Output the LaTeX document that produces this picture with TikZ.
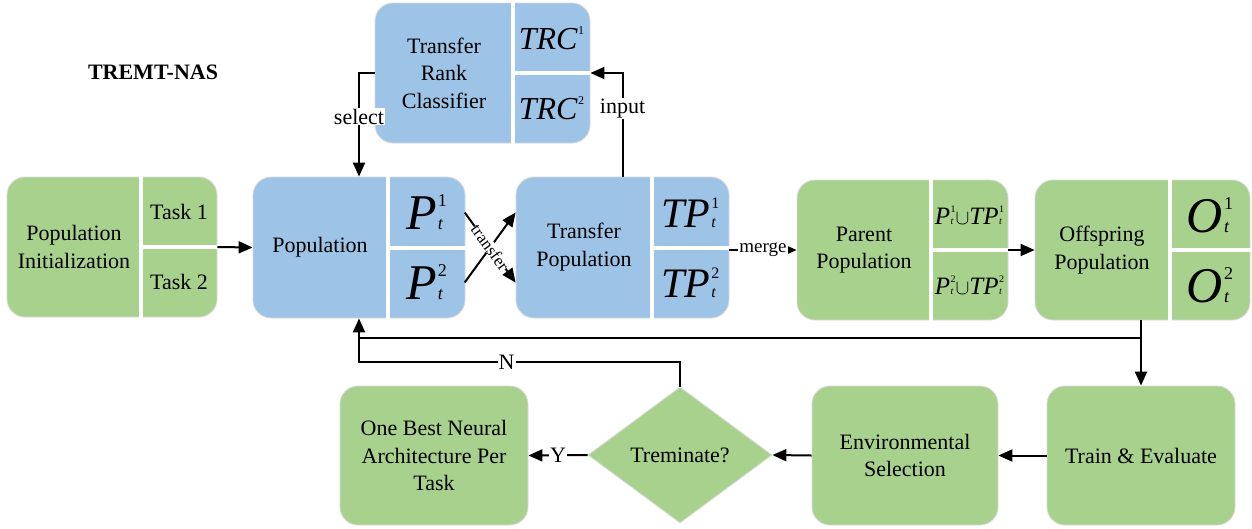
\documentclass[tikz,border=0pt]{standalone}
\usepackage{fontspec}
\setmainfont{LiberationSerif}[Extension=.ttf, UprightFont=*-Regular, BoldFont=*-Bold, ItalicFont=*-Italic, BoldItalicFont=*-BoldItalic]
\usetikzlibrary{arrows.meta,shapes.geometric}

\definecolor{boxgreen}{RGB}{169,209,142}
\definecolor{boxblue}{RGB}{157,195,230}

% letter(s) with task index on top and t below
\newcommand{\pvar}[5]{{\fontsize{#1}{#1}\selectfont
  {\itshape #3}\kern0.02em\rlap{\fontsize{#2}{#2}\selectfont\itshape #5}%
  \raisebox{0.46em}{\fontsize{#2}{#2}\selectfont #4}}}

\begin{document}
\begin{tikzpicture}[x=1pt,y=-1pt,
    every node/.style={font=\fontsize{22}{27.5}\selectfont, align=center},
    gbox/.style={draw=gray!30, fill=boxgreen, rounded corners=18pt, line width=0.8pt},
    bbox/.style={draw=gray!30, fill=boxblue, rounded corners=18pt, line width=0.8pt},
    cut/.style={white, line width=4pt},
    cell/.style={inner sep=0pt, minimum width=76pt, minimum height=70pt},
    flow/.style={-{Triangle[length=14pt,width=12pt]}, line width=2pt},
    lbl/.style={fill=white, inner sep=1pt}]
  \useasboundingbox (0,0) rectangle (1252,528);

  \node[font=\fontsize{22}{27.5}\selectfont\bfseries] (title) at (153,72) {TREMT-NAS};

  % population initialization
  \node[gbox, minimum width=210pt, minimum height=140pt] (pinit) at (112,247) {};
  \draw[cut] (141,175) -- (141,319) (141,247) -- (219,247);
  \node (pinitl) at (74,247) {Population\\Initialization};
  \node[cell] (task1) at (179,212) {Task 1};
  \node[cell] (task2) at (179,282) {Task 2};

  % population
  \node[bbox, minimum width=212pt, minimum height=141pt] (pop) at (359,247.5) {};
  \draw[cut] (388,175) -- (388,320) (388,247.5) -- (467,247.5);
  \node (popl) at (320,247) {Population};
  \node[cell] (p1) at (426.5,212.5) {\pvar{50}{18}{P}{1}{t}};
  \node[cell] (p2) at (426.5,282.5) {\pvar{50}{18}{P}{2}{t}};

  % transfer rank classifier
  \node[bbox, minimum width=215pt, minimum height=140pt] (trc) at (482.5,73) {};
  \draw[cut] (513,1) -- (513,145) (513,73) -- (592,73);
  \node (trcl) at (444,73) {Transfer\\Rank\\Classifier};
  \node[cell] (trc1) at (551.5,38) {\pvar{32}{12}{TRC}{1}{}};
  \node[cell] (trc2) at (551.5,108) {\pvar{32}{12}{TRC}{2}{}};

  % transfer population
  \node[bbox, minimum width=213pt, minimum height=141pt] (tpop) at (622.5,247.5) {};
  \draw[cut] (652,175) -- (652,320) (652,247.5) -- (731,247.5);
  \node (tpopl) at (584,247) {Transfer\\Population};
  \node[cell] (tp1) at (690.5,212.5) {\pvar{42}{16}{TP}{1}{t}};
  \node[cell] (tp2) at (690.5,282.5) {\pvar{42}{16}{TP}{2}{t}};

  % parent population
  \node[gbox, minimum width=211pt, minimum height=140pt] (par) at (902.5,250) {};
  \draw[cut] (931,178) -- (931,322) (931,250) -- (1010,250);
  \node (parl) at (864,250) {Parent\\Population};
  \node[cell] (pu1) at (969.5,215) {\pvar{25}{10}{P}{1}{t}$\cup$\pvar{25}{10}{TP}{1}{t}};
  \node[cell] (pu2) at (969.5,285) {\pvar{25}{10}{P}{2}{t}$\cup$\pvar{25}{10}{TP}{2}{t}};

  % offspring population
  \node[gbox, minimum width=215pt, minimum height=140pt] (off) at (1142.5,250) {};
  \draw[cut] (1170,178) -- (1170,322) (1170,250) -- (1252,250);
  \node (offl) at (1102,250) {Offspring\\Population};
  \node[cell] (o1) at (1210,215) {\pvar{50}{18}{O}{1}{t}};
  \node[cell] (o2) at (1210,285) {\pvar{50}{18}{O}{2}{t}};

  % bottom row
  \node[gbox, minimum width=188pt, minimum height=139pt] (train) at (1141,455.5) {Train \& Evaluate};
  \node[gbox, minimum width=186pt, minimum height=139pt] (env) at (905,455.5) {Environmental\\Selection};
  \node[gbox, diamond, sharp corners, inner sep=0pt, minimum width=184pt, minimum height=136pt] (term) at (680,455) {Treminate?};
  \node[gbox, minimum width=188pt, minimum height=139pt] (best) at (434,455.5) {One Best Neural\\Architecture Per\\Task};

  \coordinate (fb) at (1141,338);
  \coordinate (nrow) at (0,362);

  % connectors
  \draw[flow] (pinit.east) -- (pop.west);
  \draw[flow] (tpop.north) |- node[lbl, pos=0.33] {input} (trc.east);
  \draw[flow] (trc.west) -| node[lbl, pos=0.71] {select} (pop.north);
  \draw[flow] (p2.east) -- (tpop.west |- tp1);
  \draw[flow] (p1.east) -- node[lbl, sloped, inner sep=0pt, font=\fontsize{17}{17}\selectfont] {transfer} (tpop.west |- tp2);
  \draw[flow] (tpop.east |- par) -- node[lbl, font=\fontsize{19}{19}\selectfont] {merge} (par.west);
  \draw[flow] (par.east) -- (off.west);
  \draw[flow] (off.south -| train.north) -- (train.north);
  \draw[line width=1.2pt] (fb) -- (pop.south |- fb);
  \draw[flow] (term.north) -- (term.north |- nrow) -- node[lbl, pos=0.54] {N} (pop.south |- nrow) -- (pop.south);
  \draw[flow] (train.west) -- (env.east);
  \draw[flow] (env.west) -- (term.east);
  \draw[flow] (term.west) -- node[lbl] {Y} (best.east);
\end{tikzpicture}
\end{document}
